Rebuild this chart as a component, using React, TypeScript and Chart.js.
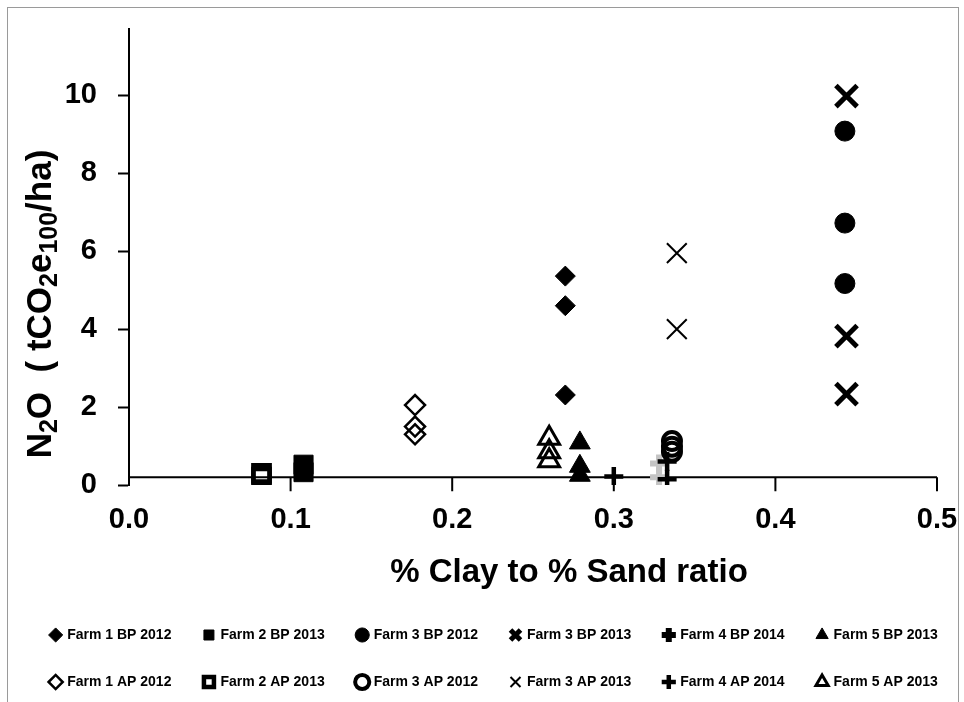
import React, { useEffect, useRef } from "react";
import { Chart, registerables } from "chart.js";

Chart.register(...registerables);

const FONT = "'Liberation Sans', Arial, sans-serif";

// ---- data ----
const seriesNames = [
  "Farm 1 BP 2012",
  "Farm 2 BP 2013",
  "Farm 3 BP 2012",
  "Farm 3 BP 2013",
  "Farm 4 BP 2014",
  "Farm 5 BP 2013",
  "Farm 1 AP 2012",
  "Farm 2 AP 2013",
  "Farm 3 AP 2012",
  "Farm 3 AP 2013",
  "Farm 4 AP 2014",
  "Farm 5 AP 2013",
];

const farm1BP2012 = [
  { x: 0.27, y: 5.36 },
  { x: 0.27, y: 4.6 },
  { x: 0.27, y: 2.31 },
];
const farm2BP2013 = [
  { x: 0.108, y: 0.52 },
  { x: 0.108, y: 0.33 },
];
const farm3BP2012 = [
  { x: 0.443, y: 9.08 },
  { x: 0.443, y: 6.72 },
  { x: 0.443, y: 5.17 },
];
const farm3BP2013 = [
  { x: 0.444, y: 9.98 },
  { x: 0.444, y: 3.82 },
  { x: 0.444, y: 2.33 },
];
const farm4BP2014 = [
  { x: 0.328, y: 0.55 },
  { x: 0.328, y: 0.2 },
];
const farm5BP2013 = [
  { x: 0.279, y: 1.08 },
  { x: 0.279, y: 0.48 },
  { x: 0.279, y: 0.25 },
];
const farm1AP2012 = [
  { x: 0.177, y: 2.05 },
  { x: 0.177, y: 1.5 },
  { x: 0.177, y: 1.3 },
];
const farm2AP2013 = [
  { x: 0.082, y: 0.3 },
  { x: 0.082, y: 0.2 },
];
const farm3AP2012 = [
  { x: 0.336, y: 1.13 },
  { x: 0.336, y: 0.98 },
  { x: 0.336, y: 0.85 },
];
const farm3AP2013 = [
  { x: 0.339, y: 5.95 },
  { x: 0.339, y: 4.0 },
];
const farm4AP2014 = [
  { x: 0.3, y: 0.22 },
  { x: 0.333, y: 0.6 },
  { x: 0.333, y: 0.15 },
];
const farm5AP2013 = [
  { x: 0.26, y: 1.2 },
  { x: 0.26, y: 0.85 },
  { x: 0.26, y: 0.62 },
];

const xMin = 0;
const xMax = 0.5;
const xStep = 0.1;
const yMin = 0;
const yMax = 11.7;
const yStep = 2;
const xAxisCrossValue = 0.2;

const xTitle = "% Clay to % Sand ratio";
const yTitleParts = [
  { t: "N", sub: false },
  { t: "2", sub: true },
  { t: "O  ( tCO", sub: false },
  { t: "2", sub: true },
  { t: "e", sub: false },
  { t: "100", sub: true },
  { t: "/ha)", sub: false },
];

// ---- styles ----
const BLACK = "#000000";
const NONE = "rgba(0,0,0,0)";

const seriesData = [
  farm1BP2012,
  farm2BP2013,
  farm3BP2012,
  farm3BP2013,
  farm4BP2014,
  farm5BP2013,
  farm1AP2012,
  farm2AP2013,
  farm3AP2012,
  farm3AP2013,
  farm4AP2014,
  farm5AP2013,
];

const seriesStyles: any[] = [
  { pointStyle: "rectRot", r: 10, fill: BLACK, stroke: BLACK, bw: 1 },
  { pointStyle: "rect", r: 13.5, fill: BLACK, stroke: BLACK, bw: 1 },
  { pointStyle: "circle", r: 10, fill: BLACK, stroke: BLACK, bw: 1 },
  { pointStyle: "crossRot", r: 15, fill: BLACK, stroke: BLACK, bw: 5 },
  { pointStyle: "cross", r: 9, fill: "#c4c4c4", stroke: "#c4c4c4", bw: 6, order: 1 },
  { pointStyle: "triangle", r: 12, fill: BLACK, stroke: BLACK, bw: 1 },
  { pointStyle: "rectRot", r: 10, fill: NONE, stroke: BLACK, bw: 2.5 },
  { pointStyle: "rect", r: 11.5, fill: NONE, stroke: BLACK, bw: 4.5 },
  { pointStyle: "circle", r: 9, fill: NONE, stroke: BLACK, bw: 4 },
  { pointStyle: "crossRot", r: 14, fill: BLACK, stroke: BLACK, bw: 2 },
  { pointStyle: "cross", r: 9.5, fill: BLACK, stroke: BLACK, bw: 4.5 },
  { pointStyle: "triangle", r: 12, fill: NONE, stroke: BLACK, bw: 3 },
];

const axisPlugin = {
  id: "customAxis",
  beforeDatasetsDraw(chart: any) {
    const { ctx, chartArea, scales } = chart;
    const xs = scales.x;
    const ys = scales.y;
    const yPix = ys.getPixelForValue(xAxisCrossValue);
    ctx.save();
    ctx.strokeStyle = BLACK;
    ctx.lineWidth = 2;
    ctx.beginPath();
    ctx.moveTo(chartArea.left, yPix);
    ctx.lineTo(chartArea.right, yPix);
    xs.ticks.forEach((t: any) => {
      if (t.value <= xMin) return;
      const px = xs.getPixelForValue(t.value);
      ctx.moveTo(px, yPix);
      ctx.lineTo(px, yPix + 14);
    });
    ctx.stroke();
    ctx.restore();
  },
  afterDraw(chart: any) {
    const { ctx, chartArea } = chart;
    ctx.save();
    ctx.fillStyle = BLACK;
    // x title
    ctx.font = `bold 33px ${FONT}`;
    ctx.textAlign = "center";
    ctx.textBaseline = "middle";
    ctx.fillText(xTitle, chartArea.left + 440, chartArea.bottom + 88);
    // y title with subscripts
    const bigSize = 35;
    const big = `bold ${bigSize}px ${FONT}`;
    const small = `bold ${Math.round(bigSize * 0.72)}px ${FONT}`;
    const widths = yTitleParts.map((p) => {
      ctx.font = p.sub ? small : big;
      return ctx.measureText(p.t).width;
    });
    const total = widths.reduce((a, b) => a + b, 0);
    ctx.translate(chartArea.left - 88, chartArea.bottom - 181);
    ctx.rotate(-Math.PI / 2);
    ctx.textAlign = "left";
    ctx.textBaseline = "middle";
    let cx = -total / 2;
    yTitleParts.forEach((p, i) => {
      ctx.font = p.sub ? small : big;
      ctx.fillText(p.t, cx, p.sub ? bigSize * 0.27 : 0);
      cx += widths[i];
    });
    ctx.restore();
  },
};

export default function App() {
  const ref = useRef<HTMLCanvasElement>(null);

  useEffect(() => {
    if (!ref.current) return;
    const datasets = seriesNames.map((name, i) => {
      const s = seriesStyles[i];
      return {
        label: name,
        data: seriesData[i],
        pointStyle: s.pointStyle,
        pointRadius: s.r,
        pointHoverRadius: s.r,
        backgroundColor: s.fill,
        borderColor: s.stroke,
        borderWidth: s.bw,
        order: s.order || 0,
        showLine: false,
      };
    });

    const chart = new Chart(ref.current, {
      type: "scatter",
      data: { datasets },
      plugins: [axisPlugin],
      options: {
        animation: false,
        responsive: false,
        maintainAspectRatio: false,
        devicePixelRatio: 1,
        events: [],
        layout: { padding: { left: 16, right: -9, top: 29, bottom: 3 } },
        font: { family: FONT },
        plugins: {
          tooltip: { enabled: false },
          legend: {
            display: true,
            position: "bottom",
            labels: {
              usePointStyle: true,
              boxWidth: 9,
              boxHeight: 10,
              padding: 33,
              color: BLACK,
              font: { family: FONT, size: 14, weight: "bold" },
              sort: (a: any, b: any) => a.datasetIndex - b.datasetIndex,
              generateLabels: (c: any) => {
                const items = (Chart as any).defaults.plugins.legend.labels.generateLabels(c);
                items.forEach((it: any) => {
                  if (it.text === "Farm 4 BP 2014") {
                    it.fillStyle = BLACK;
                    it.strokeStyle = BLACK;
                  }
                });
                return items;
              },
            },
          },
        },
        scales: {
          x: {
            type: "linear",
            min: xMin,
            max: xMax,
            afterFit: (s: any) => {
              s.height = 110;
              s.paddingRight = 27;
            },
            ticks: {
              stepSize: xStep,
              color: BLACK,
              font: { family: FONT, size: 29, weight: "bold" },
              padding: 18,
              maxRotation: 0,
              autoSkip: false,
              callback: (v: any) => Number(v).toFixed(1),
            },
            grid: { display: false, drawTicks: false },
            border: { display: false },
          },
          y: {
            type: "linear",
            min: yMin,
            max: yMax,
            afterBuildTicks: (s: any) => {
              s.ticks = s.ticks.filter(
                (t: any) => Math.abs(t.value / yStep - Math.round(t.value / yStep)) < 1e-6
              );
            },
            afterFit: (s: any) => {
              s.width = 113;
              s.paddingTop = 0;
              s.paddingBottom = 0;
            },
            ticks: {
              stepSize: yStep,
              color: BLACK,
              font: { family: FONT, size: 29, weight: "bold" },
              padding: 21,
            },
            grid: {
              drawOnChartArea: false,
              drawTicks: true,
              tickLength: 11,
              tickColor: BLACK,
              tickWidth: 2,
            },
            border: { display: true, color: BLACK, width: 2 },
          },
        },
      } as any,
    });
    return () => chart.destroy();
  }, []);

  return (
    <div
      style={{
        position: "absolute",
        left: 0,
        top: 0,
        width: 964,
        height: 702,
        background: "#ffffff",
        overflow: "hidden",
      }}
    >
      <div
        style={{
          position: "absolute",
          left: 7,
          top: 7,
          width: 950,
          height: 700,
          border: "1px solid #9a9a9a",
        }}
      />
      <canvas
        ref={ref}
        width={964}
        height={702}
        style={{ position: "absolute", left: 0, top: 0, width: 964, height: 702 }}
      />
    </div>
  );
}
